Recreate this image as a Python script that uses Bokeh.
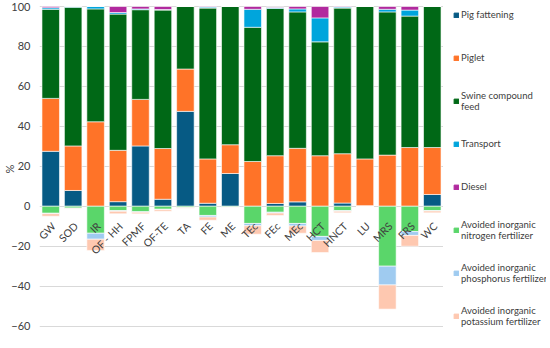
import math
from bokeh.plotting import figure
from bokeh.layouts import row
from bokeh.models import ColumnDataSource, FactorRange, Range1d, Legend, LegendItem
from bokeh.core.properties import value
from bokeh.embed import file_html
from bokeh.resources import INLINE

categories = ["GW", "SOD", "IR", "OF - HH", "FPMF", "OF-TE", "TA", "FE", "ME", "TEc",
              "FEc", "MEc", "HCT", "HNCT", "LU", "MRS", "FRS", "WC"]

pig_fattening = [27.5, 7.9, 0, 2.3, 30.2, 3.5, 47.5, 1.5, 16.4, 0, 1.4, 2.2, 0, 1.6, 0, 0, 0, 5.9]
piglet = [26.5, 22.3, 42.3, 25.7, 23.3, 25.4, 21.2, 22.2, 14.4, 22.4, 23.9, 26.8, 25.3, 24.7, 23.7, 25.6, 29.4, 23.5]
swine_feed = [44.6, 69.4, 56.5, 68.2, 44.9, 69.3, 31.3, 75.5, 69.2, 67.2, 73.7, 68.3, 57.0, 72.9, 76.3, 71.7, 65.8, 70.6]
transport = [0.8, 0.4, 1.2, 0.8, 0.4, 0.3, 0, 0.5, 0, 9.0, 0.5, 1.5, 12.0, 0.5, 0, 1.3, 3.0, 0]
diesel = [0.6, 0, 0, 3.0, 1.2, 1.5, 0, 0.3, 0, 1.4, 0.3, 1.2, 5.7, 0.3, 0, 1.4, 1.8, 0]
avoided_n = [-3.5, -1.0, -13.5, -2.2, -2.8, -1.5, -0.8, -4.6, -0.5, -8.6, -3.0, -8.6, -15.1, -2.2, 0, -30.0, -12.7, -2.2]
avoided_p = [-0.2, 0, -3.0, -0.3, -0.2, -0.2, 0, -0.8, 0, -1.2, -0.4, -1.3, -2.0, -0.3, 0, -9.4, -1.9, -0.2]
avoided_k = [-1.3, -0.2, -5.6, -1.3, -0.8, -0.8, -0.2, -1.6, -0.1, -4.2, -1.2, -3.6, -6.1, -0.8, 0, -12.1, -5.4, -0.9]

y_ticks = [-60, -40, -20, 0, 20, 40, 60, 80, 100]

pos_keys = ["pig_fattening", "piglet", "swine_feed", "transport", "diesel"]
pos_labels = ["Pig fattening", "Piglet", "Swine compound\nfeed", "Transport", "Diesel"]
pos_colors = ["#065A84", "#FF7328", "#006816", "#00A5DC", "#B1299E"]
neg_keys = ["avoided_n", "avoided_p", "avoided_k"]
neg_labels = ["Avoided inorganic\nnitrogen fertilizer", "Avoided inorganic\nphosphorus fertilizer",
              "Avoided inorganic\npotassium fertilizer"]
neg_colors = ["#5AD66A", "#9FCBF0", "#FEC8B0"]

source = ColumnDataSource(dict(
    cat=categories, pig_fattening=pig_fattening, piglet=piglet, swine_feed=swine_feed,
    transport=transport, diesel=diesel, avoided_n=avoided_n, avoided_p=avoided_p,
    avoided_k=avoided_k))

FONT = "Lato"
FRAME_W = 404
FRAME_H = 327
LEG_W = 103
H = 332

p = figure(x_range=FactorRange(*categories, range_padding=0), y_range=Range1d(-63.2, 100.5),
           frame_width=FRAME_W, frame_height=FRAME_H, output_backend="svg",
           toolbar_location=None, x_axis_location=None, min_border_left=0, min_border_top=5,
           min_border_bottom=0, min_border_right=0)
p.outline_line_color = None

pos_r = p.vbar_stack(pos_keys, x="cat", width=0.78, source=source, color=pos_colors,
                     line_color="white", line_width=0.6)
neg_r = p.vbar_stack(neg_keys, x="cat", width=0.78, source=source, color=neg_colors,
                     line_color="white", line_width=0.6)

p.text(x="cat", y=0, text="cat", source=source, angle=math.pi / 4, text_align="right",
       text_baseline="middle", y_offset=18, x_offset=3, text_font=value(FONT),
       text_font_size="10.5px", text_color="#404040")

p.xgrid.grid_line_color = None
p.ygrid.grid_line_color = "#d9d9d9"
p.ygrid.grid_line_width = 1
p.yaxis.ticker = y_ticks
p.yaxis.axis_line_color = None
p.yaxis.major_tick_line_color = None
p.yaxis.minor_tick_line_color = None
p.yaxis.major_label_text_font = FONT
p.yaxis.major_label_text_font_size = "11px"
p.yaxis.major_label_text_color = "#404040"
p.yaxis.major_label_standoff = 3
p.yaxis.axis_label = "%"
p.yaxis.axis_label_text_font = FONT
p.yaxis.axis_label_text_font_size = "11px"
p.yaxis.axis_label_text_font_style = "normal"
p.yaxis.axis_label_text_color = "#404040"
p.yaxis.axis_label_standoff = -8

# legend panel: its own figure; swatch renderers hold one empty (NaN) row so they draw nothing
leg = figure(width=LEG_W, height=H, output_backend="svg", toolbar_location=None,
             x_axis_location=None, y_axis_location=None, x_range=Range1d(0, 1),
             y_range=Range1d(0, 1), min_border=0)
leg.outline_line_color = None
leg.grid.visible = False
swatch_src = ColumnDataSource(dict(x=[float("nan")], top=[float("nan")]))
labels = pos_labels + neg_labels
colors = pos_colors + neg_colors
sw = [leg.vbar(x="x", top="top", width=0.5, source=swatch_src, color=c) for c in colors]

items = [LegendItem(label=l, renderers=[r]) for l, r in zip(labels, sw)]
legend = Legend(items=items, location=(10, 4), orientation="vertical")
legend.label_text_font = FONT
legend.label_text_font_size = "9.5px"
legend.label_text_color = "#404040"
legend.label_text_baseline = "middle"
legend.glyph_width = 6
legend.glyph_height = 6
legend.label_standoff = 2
legend.label_height = 25
legend.spacing = 18
legend.padding = 0
legend.margin = 0
legend.border_line_color = None
legend.background_fill_alpha = 0
leg.add_layout(legend)

layout = row(p, leg)
open("out.html", "w").write(file_html(layout, INLINE))
